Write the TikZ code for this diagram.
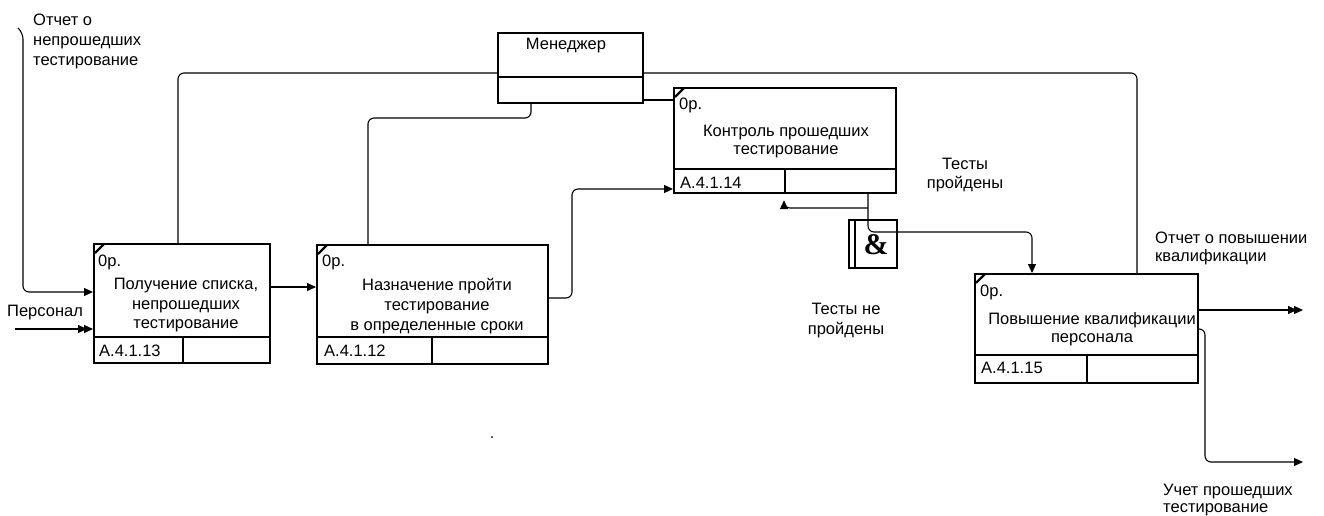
\documentclass[tikz,border=0pt]{standalone}
\usepackage{fontspec}
\setmainfont{Liberation Sans}
\newfontfamily\ampfont{Liberation Serif}
\usetikzlibrary{arrows.meta,calc}
\begin{document}
\begin{tikzpicture}[x=1pt,y=-1pt,
  box/.style={draw, line width=2.2pt, rectangle, inner sep=0pt, anchor=north west, fill=white},
  divline/.style={line width=2.2pt},
  conn/.style={line width=1.1pt, rounded corners=6pt},
  tip/.style={-{Triangle[length=9pt,width=8pt]}},
  dtip/.style={-{Triangle[length=9pt,width=8pt,sep=-3pt]Triangle[length=9pt,width=8pt]}},
  lbl/.style={font=\fontsize{16.5}{19}\selectfont, inner sep=0pt, align=left, anchor=north west},
  clbl/.style={font=\fontsize{16.5}{19}\selectfont, inner sep=0pt, align=center, anchor=north},
  small/.style={font=\fontsize{16.5}{19}\selectfont, inner sep=0pt, anchor=north west},
]
\useasboundingbox[fill=white] (0,0) rectangle (1324,515);

% ---------- boxes ----------
\node[box, minimum width=176pt, minimum height=119pt] (b13) at (93,243) {};
\node[box, minimum width=231pt, minimum height=119pt] (b12) at (316,244) {};
\node[box, minimum width=222pt, minimum height=105pt] (b14) at (673,87) {};
\node[box, minimum width=223pt, minimum height=109pt] (b15) at (974,273) {};
\node[box, minimum width=145pt, minimum height=70pt] (mgr) at (497,32) {};
\node[box, minimum width=48pt, minimum height=48pt] (jn) at (848,219) {};

% dividers
\draw[divline] (93,337) -- (269,337) (183,337) -- (183,362);
\draw[divline] (316,337) -- (547,337) (432,337) -- (432,363);
\draw[divline] (673,169) -- (895,169) (785,169) -- (785,192);
\draw[divline] (974,355) -- (1197,355) (1087,355) -- (1087,382);
\draw[divline] (497,77) -- (642,77);
\draw[divline] (855,219) -- (855,267);

% corner ticks
\draw[divline] (95,253) -- (104,244);
\draw[divline] (318,254) -- (327,245);
\draw[divline] (675,97) -- (684,88);
\draw[divline] (976,283) -- (985,274);

% box texts
\node[small] at (98,255) {0р.};
\node[small] at (322,255) {0р.};
\node[small] at (679,98) {0р.};
\node[small] at (980,285) {0р.};
\node[small] at (99,345) {A.4.1.13};
\node[small] at (324,345) {A.4.1.12};
\node[small] at (680,177) {A.4.1.14};
\node[small] at (981,362) {A.4.1.15};

\node[clbl, font=\fontsize{16.5}{19.5}\selectfont] (t13) at (186,278) {Получение списка,\\непрошедших\\тестирование};
\node[clbl, font=\fontsize{16.5}{20}\selectfont] (t12) at (437,278) {Назначение пройти\\тестирование\\в определенные сроки};
\node[clbl, font=\fontsize{16.5}{17.5}\selectfont] (t14) at (786,125) {Контроль прошедших\\тестирование};
\node[clbl, font=\fontsize{16.5}{18.5}\selectfont] (t15) at (1092,312) {Повышение квалификации\\персонала};
\node[clbl] (tm) at (566,38) {Менеджер};
\node[inner sep=0pt, font=\ampfont\bfseries\fontsize{30}{30}\selectfont] (amp) at (876,245) {\&};

% ---------- connectors ----------
\coordinate (in1) at (18,28);
\draw[conn,tip] (in1) -- (23,33) -- (23,292) -- (b13.west |- 0,292);
\coordinate (in2) at (15,329);
\draw[conn,dtip] (in2) -- (b13.west |- 0,329);
\draw[conn,tip] (b13.east |- 0,287) -- (b12.west |- 0,287);
\draw[conn,tip] (b12.east |- 0,298) -- (572,298) -- (572,189) -- (b14.west |- 0,189);
\draw[conn] (178,0 |- b13.north) -- (178,73) -- (mgr.west |- 0,73);
\draw[conn] (mgr.east |- 0,73) -- (1137,73) -- (1137,0 |- b15.north);
\draw[conn] (531,0 |- mgr.south) -- (531,118) -- (368,118) -- (368,0 |- b12.north);
\draw[conn] (mgr.east |- 0,100) -- (b14.west |- 0,100);
\draw[conn,tip] (868,0 |- b14.south) -- (868,232) -- (1032,232) -- (1032,0 |- b15.north);
\draw[conn,tip,shorten >=6pt] (868,208) -- (784,208) -- (784,0 |- b14.south);
\coordinate (out1) at (1303,310);
\draw[conn,dtip] (b15.east |- 0,310) -- (out1);
\coordinate (out2) at (1303,462);
\draw[conn,tip] (b15.east |- 0,329) -- (1205,329) -- (1205,462) -- (out2);

% ---------- labels ----------
\node[lbl, font=\fontsize{16.5}{20}\selectfont] at (33,14) {Отчет о\\непрошедших\\тестирование};
\node[lbl] at (7,305) {Персонал};
\node[clbl] at (965,158) {Тесты\\пройдены};
\node[clbl, font=\fontsize{16.5}{20}\selectfont] at (846,303) {Тесты не\\пройдены};
\node[lbl, font=\fontsize{16.5}{18}\selectfont] at (1155,232) {Отчет о повышении\\квалификации};
\node[lbl, font=\fontsize{16.5}{17}\selectfont] at (1163,484) {Учет прошедших\\тестирование};
\fill (492,437) circle (1pt);
\end{tikzpicture}
\end{document}
